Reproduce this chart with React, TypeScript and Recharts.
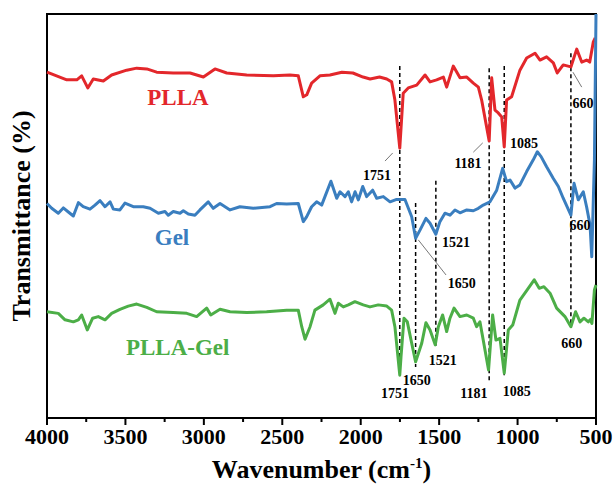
import { LineChart, Line, XAxis, YAxis, ReferenceLine, ReferenceArea, ReferenceDot } from 'recharts';

// FTIR spectra, wavenumber (cm-1) vs transmittance (arbitrary offset units, 0-100)
const pllaSpectrum: [number, number][] = [
  [4000, 85.6], [3874, 83.7], [3810, 83.7], [3779, 84.7], [3740, 81.7], [3705, 83.9], [3641, 83.4],
  [3588, 84.9], [3492, 86.1], [3428, 86.6], [3364, 86.4], [3301, 85.6], [3195, 85.4], [3088, 85.4],
  [3003, 84.4], [2929, 86.4], [2854, 85.4], [2727, 84.9], [2557, 84.7], [2451, 84.9], [2398, 84.7],
  [2366, 79.5], [2344, 80.0], [2313, 82.9], [2260, 84.7], [2196, 84.9], [2120, 85.6], [2050, 85.4],
  [1985, 84.4], [1940, 83.9], [1880, 84.4], [1834, 83.9], [1803, 83.2], [1782, 78.7], [1751, 66.8],
  [1729, 80.4], [1697, 81.7], [1643, 82.4], [1590, 84.9], [1558, 83.2], [1516, 83.7], [1473, 84.4],
  [1452, 81.9], [1410, 87.1], [1367, 84.2], [1324, 84.4], [1282, 82.9], [1250, 81.9], [1229, 78.7],
  [1181, 68.6], [1165, 84.2], [1144, 76.2], [1123, 75.5], [1101, 74.5], [1085, 67.1], [1070, 78.7],
  [1038, 79.5], [985, 86.1], [942, 89.1], [889, 90.3], [857, 88.6], [815, 89.4], [772, 87.9],
  [747, 85.4], [709, 87.4], [660, 86.9], [623, 91.3], [591, 88.1], [560, 88.6], [540, 88.1],
  [517, 93.1], [505, 94.1],
];

const gelSpectrum: [number, number][] = [
  [4000, 53.1], [3970, 51.9], [3928, 50.7], [3896, 52.0], [3864, 51.0], [3832, 50.0], [3800, 53.3],
  [3769, 52.3], [3726, 51.7], [3694, 52.7], [3662, 53.8], [3630, 52.3], [3598, 53.5], [3577, 51.7],
  [3535, 51.5], [3503, 53.2], [3450, 52.3], [3386, 52.3], [3343, 51.9], [3290, 50.7], [3248, 51.1],
  [3227, 50.2], [3195, 51.1], [3152, 50.7], [3131, 51.3], [3099, 50.5], [3057, 50.2], [3025, 51.5],
  [2972, 53.5], [2940, 51.9], [2897, 53.1], [2833, 51.5], [2770, 52.3], [2685, 51.9], [2578, 52.3],
  [2536, 53.1], [2472, 53.0], [2398, 53.1], [2366, 48.6], [2345, 49.8], [2313, 52.3], [2281, 53.5],
  [2249, 52.7], [2228, 54.8], [2190, 58.6], [2153, 54.4], [2132, 56.0], [2100, 54.8], [2079, 56.0],
  [2058, 53.5], [2036, 56.0], [2015, 54.0], [1987, 57.3], [1962, 54.8], [1924, 56.4], [1898, 54.4],
  [1856, 54.8], [1813, 53.5], [1771, 54.1], [1718, 54.1], [1675, 49.8], [1650, 44.5], [1622, 46.5],
  [1584, 49.4], [1558, 48.2], [1521, 45.5], [1495, 48.6], [1463, 50.7], [1431, 50.2], [1399, 51.5],
  [1367, 50.8], [1324, 51.5], [1282, 51.3], [1250, 51.9], [1219, 52.7], [1176, 53.5], [1133, 56.4],
  [1095, 61.8], [1070, 58.5], [1048, 58.9], [1016, 56.9], [985, 57.7], [942, 61.0], [900, 63.9],
  [874, 65.9], [850, 64.7], [815, 62.2], [772, 59.3], [740, 57.3], [709, 54.4], [660, 50.2],
  [640, 58.1], [613, 54.0], [581, 56.0], [560, 52.3], [538, 47.8], [527, 39.9], [510, 63.9], [500, 100],
];

const pllaGelSpectrum: [number, number][] = [
  [4000, 26.3], [3928, 25.9], [3885, 24.3], [3832, 23.8], [3800, 24.3], [3779, 25.5], [3743, 21.8],
  [3709, 24.7], [3673, 25.1], [3630, 24.3], [3588, 25.9], [3535, 26.9], [3482, 27.7], [3428, 28.2],
  [3364, 27.4], [3301, 26.3], [3195, 26.1], [3109, 25.9], [3046, 25.1], [2982, 27.2], [2956, 25.5],
  [2897, 26.9], [2833, 26.3], [2727, 26.1], [2600, 26.3], [2472, 26.7], [2398, 26.7], [2376, 22.6],
  [2355, 19.5], [2323, 22.6], [2292, 26.7], [2239, 28.0], [2196, 29.4], [2164, 25.9], [2143, 28.4],
  [2111, 27.5], [2079, 28.0], [2037, 28.8], [1984, 28.0], [1941, 27.5], [1888, 28.0], [1834, 27.7],
  [1803, 26.7], [1782, 22.6], [1751, 10.6], [1743, 15.2], [1724, 24.7], [1703, 23.8], [1675, 18.5],
  [1650, 13.9], [1611, 18.5], [1584, 23.6], [1558, 21.8], [1525, 18.1], [1505, 22.6], [1478, 25.5],
  [1452, 21.4], [1431, 24.7], [1405, 27.2], [1367, 25.1], [1324, 25.5], [1282, 24.7], [1261, 22.6],
  [1240, 23.8], [1219, 19.3], [1185, 11.9], [1159, 25.5], [1138, 19.3], [1112, 19.7], [1085, 11.1],
  [1059, 21.8], [1031, 23.0], [985, 29.2], [932, 32.1], [894, 34.2], [862, 32.1], [832, 32.5],
  [793, 30.9], [751, 27.2], [698, 25.1], [660, 22.6], [630, 26.3], [602, 23.8], [577, 24.7],
  [549, 23.8], [535, 24.4], [526, 23.4], [510, 31.7], [500, 32.9],
];

// dashed peak markers: wavenumber, top, bottom
const peakLines: [number, number, number][] = [
  [1751, 87.1, 10.6], [1181, 86.6, 8.9], [1085, 87.1, 10.6], [660, 90.3, 23.0], [1650, 53.2, 12.6], [1521, 58.7, 17.6],
];

// peak labels: text, wavenumber, transmittance
const peakLabels: [string, number, number][] = [
  ['1751', 1896, 58.9], ['1181', 1316, 61.9], ['1085', 959, 66.8], ['660', 583, 76.7],
  ['1521', 1393, 42.3], ['1650', 1356, 32.2], ['660', 602, 46.5],
  ['1751', 1782, 5.0], ['1650', 1643, 8.2], ['1521', 1477, 13.1], ['1181', 1278, 5.0], ['1085', 1006, 5.4], ['660', 655, 17.3],
];

// thin leader lines from peaks to their labels
const leaders: [number, number, number, number][] = [
  [1796, 65.6, 1845, 63.6], [1222, 68.1, 1282, 65.8], [647, 85.6, 591, 81.9], [1633, 44.1, 1456, 35.4],
];

const seriesNames = ['PLLA', 'Gel', 'PLLA-Gel'];
const seriesLabelPos: [number, number][] = [[3165, 77.4], [3203, 42.8], [3167, 15.6]];
const colors = ['#e3272b', '#3a7ebf', '#4cae47'];

const xTicks = [4000, 3750, 3500, 3250, 3000, 2750, 2500, 2250, 2000, 1750, 1500, 1250, 1000, 750, 500];

const FONT = '"Liberation Serif", "Times New Roman", serif';

const toPoints = (s: [number, number][]) => s.map(([wn, t]) => ({ wn, t }));

function XTick(props: any) {
  const { x, y, payload } = props;
  const major = payload.value % 500 === 0;
  return (
    <g>
      <line x1={x} x2={x} y1={y} y2={y + (major ? 7 : 4)} stroke="#000" strokeWidth={2} />
      {major && (
        <text x={x} y={y + 26} textAnchor="middle" fontFamily={FONT} fontWeight="bold" fontSize={22} fill="#000">
          {payload.value}
        </text>
      )}
    </g>
  );
}

export default function App() {
  const series = [pllaSpectrum, gelSpectrum, pllaGelSpectrum];
  return (
    <>
      <style>{'body{margin:0}'}</style>
      <LineChart width={614} height={491} margin={{ top: 14, right: 18, bottom: 0, left: 0 }}>
        <XAxis
          dataKey="wn"
          type="number"
          domain={[500, 4000]}
          reversed
          ticks={xTicks}
          interval={0}
          tick={<XTick />}
          tickLine={false}
          axisLine={false}
          tickSize={0}
          tickMargin={0}
          height={73}
          label={{
            content: (p: any) => {
              const vb = p.viewBox;
              return (
                <text x={vb.x + vb.width / 2} y={vb.y + 60} textAnchor="middle" fontFamily={FONT} fontWeight="bold" fontSize={26} fill="#000">
                  <tspan>Wavenumber (cm</tspan>
                  <tspan dy={-10} fontSize={15}>-1</tspan>
                  <tspan dy={10}>)</tspan>
                </text>
              );
            },
          }}
        />
        <YAxis
          type="number"
          domain={[0, 100]}
          width={47}
          tick={false}
          tickLine={false}
          axisLine={false}
          label={{
            content: (p: any) => {
              const vb = p.viewBox;
              const cy = vb.y + vb.height / 2;
              return (
                <text x={30} y={cy} transform={`rotate(-90 30 ${cy})`} textAnchor="middle" fontFamily={FONT} fontWeight="bold" fontSize={26} fill="#000">
                  Transmittance (%)
                </text>
              );
            },
          }}
        />
        <ReferenceArea x1={500} x2={4000} y1={0} y2={100} fill="none" stroke="#000" strokeWidth={2} />
        {peakLines.map(([wn, top, bottom], i) => (
          <ReferenceLine
            key={`pl${i}`}
            segment={[{ x: wn, y: top }, { x: wn, y: bottom }]}
            stroke="#000"
            strokeWidth={1.5}
            strokeDasharray="4 3"
          />
        ))}
        {leaders.map(([x1, y1, x2, y2], i) => (
          <ReferenceLine key={`ld${i}`} segment={[{ x: x1, y: y1 }, { x: x2, y: y2 }]} stroke="#777" strokeWidth={1} />
        ))}
        {series.map((s, i) => (
          <Line
            key={seriesNames[i]}
            data={toPoints(s)}
            dataKey="t"
            type="linear"
            stroke={colors[i]}
            strokeWidth={3}
            strokeLinejoin="round"
            dot={false}
            activeDot={false}
            isAnimationActive={false}
          />
        ))}
        {peakLabels.map(([txt, wn, t], i) => (
          <ReferenceDot
            key={`lb${i}`}
            x={wn}
            y={t}
            r={0}
            shape={(p: any) => (
              <text x={p.cx} y={p.cy} textAnchor="middle" fontFamily={FONT} fontWeight="bold" fontSize={14} fill="#000">
                {txt}
              </text>
            )}
          />
        ))}
        {seriesNames.map((name, i) => (
          <ReferenceDot
            key={`sn${i}`}
            x={seriesLabelPos[i][0]}
            y={seriesLabelPos[i][1]}
            r={0}
            shape={(p: any) => (
              <text x={p.cx} y={p.cy} textAnchor="middle" fontFamily={FONT} fontWeight="bold" fontSize={23} fill={colors[i]}>
                {name}
              </text>
            )}
          />
        ))}
      </LineChart>
    </>
  );
}
